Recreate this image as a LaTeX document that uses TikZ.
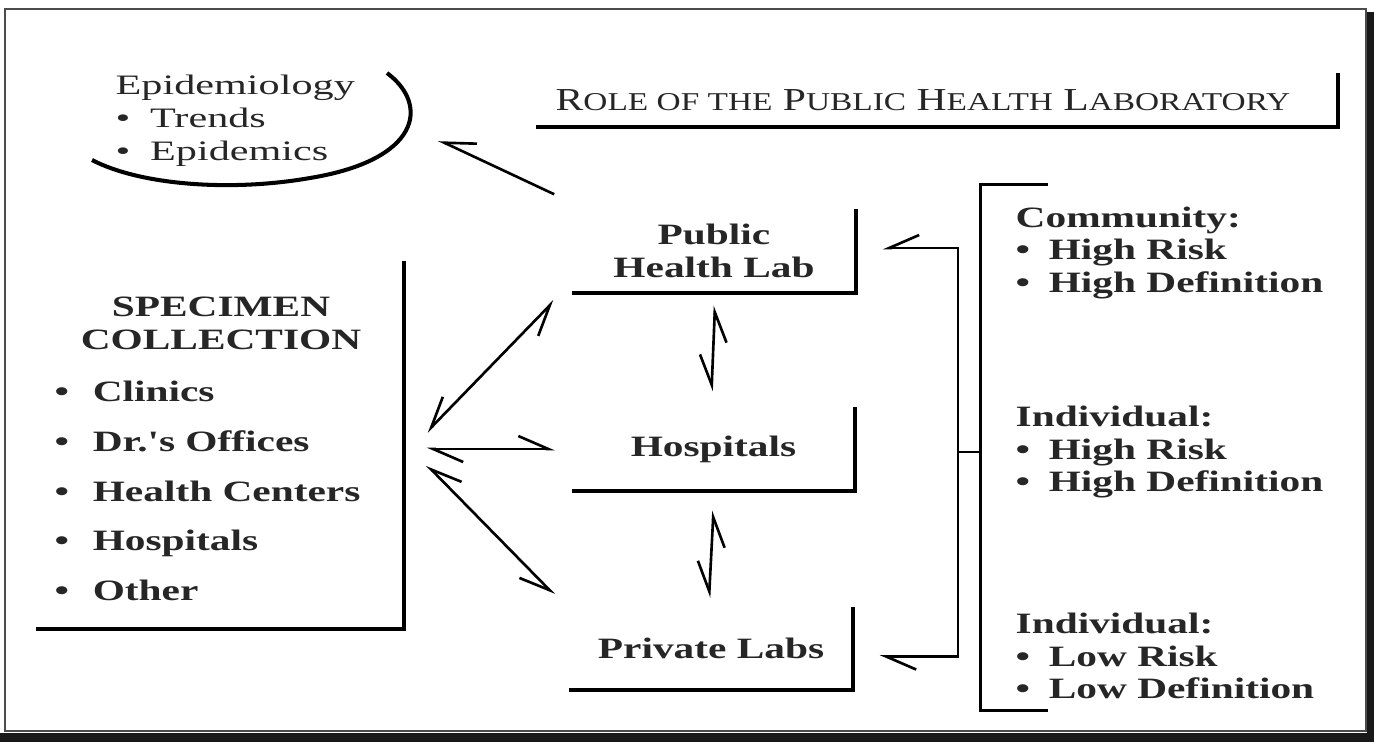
\documentclass[tikz,border=0pt]{standalone}
\usepackage{fontspec}
\setmainfont{Liberation Serif}
\newfontfamily\labfont[FakeStretch=1.4]{Liberation Serif}
\newfontfamily\epifont[FakeStretch=1.5]{Liberation Serif}
\newfontfamily\titlefont[FakeStretch=1.3]{Liberation Serif}
\usetikzlibrary{arrows.meta}
\lineskiplimit=-100pt
\tikzstyle{unit}=[inner sep=0pt, minimum width=2.82cm, minimum height=0.82cm,
  font=\labfont\bfseries\fontsize{8.4}{9.4}\selectfont, align=center]
\tikzstyle{info}=[inner sep=0pt, anchor=west, align=left,
  font=\labfont\bfseries\fontsize{8.4}{9.2}\selectfont]
\tikzstyle{edge} = [draw, line width=1.15pt]
\tikzstyle{line} = [draw, line width=0.75pt]
\tikzset{hR/.tip={Straight Barb[harpoon,swap,length=3mm,width=2.6mm]},
  hL/.tip={Straight Barb[harpoon,length=3mm,width=2.6mm]}}
\newcommand{\boxedge}[1]{(#1.north east) -- (#1.south east) -- (#1.south west)}
\newcommand{\dotitem}[1]{\textbullet\hspace{#1}}
\newcommand{\smc}[1]{{\fontsize{7.3}{10}\selectfont #1}}

\begin{document}
\begin{tikzpicture}[x=0.01cm,y=-0.01cm,text=black!85]
  \useasboundingbox (0,0) rectangle (1374,742);
  % page frame
  \draw[black!70, line width=0.6pt] (5,9) rectangle (1366,731);
  \fill[black!90] (1367,12) rectangle (1374,742);
  \fill[black!90] (0,733) rectangle (1374,742);

  % Draw diagram elements
  \node (titlebox) [unit, minimum width=8cm, minimum height=0.52cm] at (937,100) {};
  \node (title) [inner sep=0pt, font=\titlefont\fontsize{9.1}{13}\selectfont] at (923,100)
    {R\smc{OLE OF THE} P\smc{UBLIC} H\smc{EALTH} L\smc{ABORATORY}};
  \node (epi) [inner sep=0pt, anchor=west, align=left,
    font=\epifont\fontsize{8}{9.4}\selectfont] at (115,121)
    {Epidemiology\\\dotitem{0.7em}Trends\\\dotitem{0.7em}Epidemics};
  \node (phl) [unit] at (714,251) {Public\\Health Lab};
  \node (hosp) [unit] at (713.5,449) {Hospitals};
  \node (priv) [unit] at (711,648.5) {Private Labs};
  \node (spec) [unit, minimum width=3.66cm, minimum height=3.66cm] at (220,445) {};
  \node (spechead) [unit, minimum height=0pt] at (221,323) {SPECIMEN\\COLLECTION};
  \node (speclist) [info, font=\labfont\bfseries\fontsize{8.4}{14.1}\selectfont] at (54,491)
    {\dotitem{0.8em}Clinics\\\dotitem{0.8em}Dr.'s Offices\\
     \dotitem{0.8em}Health Centers\\\dotitem{0.8em}Hospitals\\\dotitem{0.8em}Other};
  \node (comm) [info] at (1015,253)
    {Community:\\\dotitem{0.63em}High Risk\\\dotitem{0.63em}High Definition};
  \node (indhigh) [info] at (1015,452)
    {Individual:\\\dotitem{0.63em}High Risk\\\dotitem{0.63em}High Definition};
  \node (indlow) [info] at (1015,656)
    {Individual:\\\dotitem{0.63em}Low Risk\\\dotitem{0.63em}Low Definition};

  % box edges
  \path [edge] \boxedge{titlebox};
  \path [edge] \boxedge{phl};
  \path [edge] \boxedge{hosp};
  \path [edge] \boxedge{priv};
  \path [edge] \boxedge{spec};
  \path [edge] (387,73) .. controls (430,105) and (420,160) .. (310,178)
    .. controls (230,192) and (140,185) .. (92,160);

  % connectors
  \path [line, -hR] ([shift={(-18,-15)}]phl.north west) -- ([shift={(83,19)}]epi.east);
  \path [line, hR-hR] ([shift={(23,-13)}]spec.east) -- ([shift={(-18,8)}]phl.south west);
  \path [line, hL-hL] ([shift={(23,4)}]spec.east) -- ([shift={(-17,0)}]hosp.west);
  \path [line, hR-hR] ([shift={(23,20)}]spec.east) -- ([shift={(-15,-12)}]priv.north west);
  \path [line, hR-hR] ([shift={(1,13)}]phl.south) -- ([shift={(-2,-16)}]hosp.north);
  \path [line, hR-hR] ([shift={(0,20)}]hosp.south) -- ([shift={(-2,-9)}]priv.north);

  % grouping bracket
  \coordinate (brtop) at (1048,184);
  \coordinate (brbot) at (1048,710);
  \coordinate (brk) at (980,452);
  \coordinate (fork) at (958,452);
  \path [line, line width=0.85pt] (brtop) -| (brk) |- (brbot);
  \path [line] (brk) -- (fork);
  \path [line, -hR] (fork) |- ([shift={(27,-3)}]phl.east);
  \path [line, -hL] (fork) |- ([shift={(27,8)}]priv.east);
\end{tikzpicture}
\end{document}
